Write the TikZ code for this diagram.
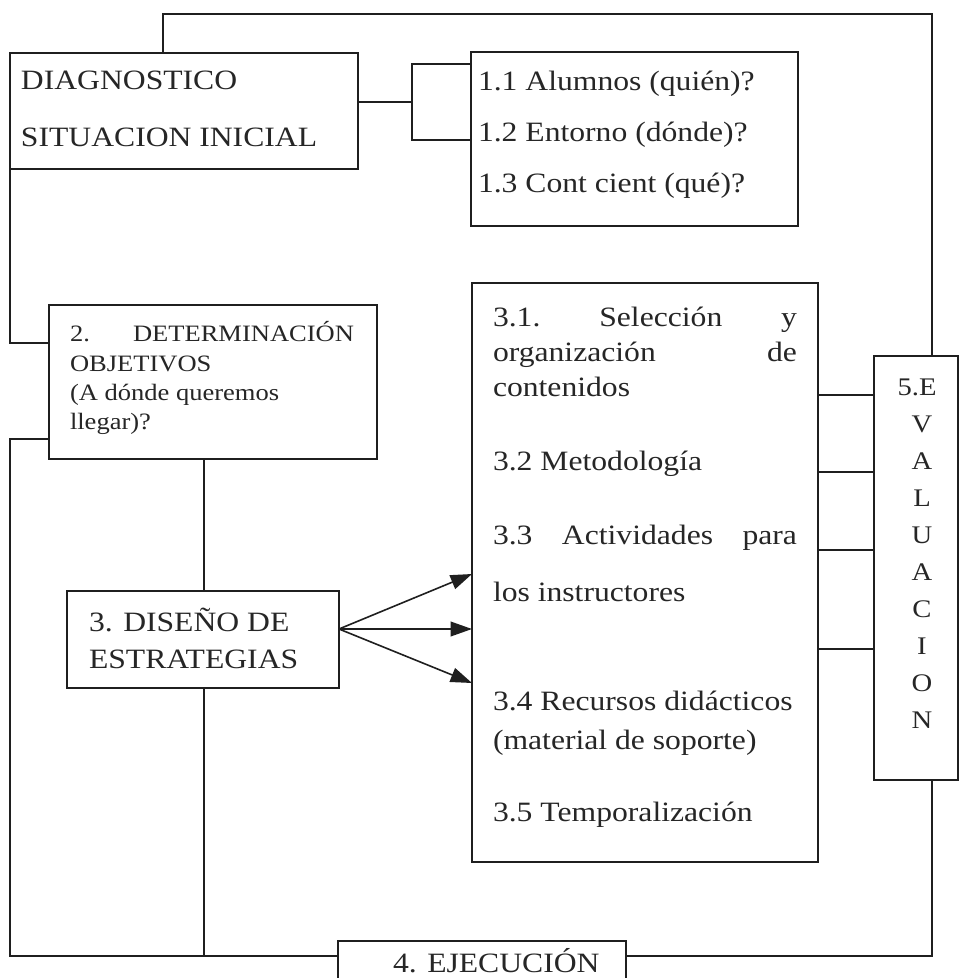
\documentclass[tikz,border=0pt]{standalone}
\usepackage{fontspec}
\setmainfont{Liberation Serif}[FakeStretch=1.13]
\usetikzlibrary{arrows.meta}
\newcommand\mainsz{\fontsize{21pt}{25pt}\selectfont}
\newcommand\smallsz{\fontsize{17.6pt}{21pt}\selectfont}
\newcommand\evsz{\fontsize{19pt}{22pt}\selectfont}
\begin{document}
\begin{tikzpicture}[x=0.75pt,y=-0.75pt,
  ln/.style={line width=1.2pt, draw=black!88},
  boxn/.style={draw=black!88, line width=1.2pt, rectangle, inner sep=0pt, outer sep=0pt, anchor=north west},
  txt/.style={anchor=base west, inner sep=0pt, outer sep=0pt, font=\mainsz, text=black!85},
  stxt/.style={txt, font=\smallsz},
  etxt/.style={anchor=base, inner sep=0pt, outer sep=0pt, font=\evsz, text=black!85},
  arr/.style={ln, -{Triangle[length=16pt,width=11pt]}}]

\fill[white] (0,0) rectangle (960,978);
\useasboundingbox (0,0) rectangle (960,978);

% boxes
\node[boxn, minimum width=348*0.75pt, minimum height=116*0.75pt] (diag) at (10,53) {};
\node[boxn, minimum width=327*0.75pt, minimum height=174*0.75pt] (q1) at (471,52) {};
\node[boxn, minimum width=328*0.75pt, minimum height=154*0.75pt] (obj) at (49,305) {};
\node[boxn, minimum width=272*0.75pt, minimum height=97*0.75pt] (dis) at (67,591) {};
\node[boxn, minimum width=346*0.75pt, minimum height=579*0.75pt] (b3) at (472,283) {};
\node[boxn, minimum width=84*0.75pt, minimum height=424*0.75pt] (ev) at (874,356) {};
\node[boxn, minimum width=288*0.75pt, minimum height=70*0.75pt] (ej) at (338,941) {};

% texts
\node[txt] (d1) at (21,89) {DIAGNOSTICO};
\node[txt] (d2) at (21,146) {SITUACION INICIAL};
\node[txt] (q11) at (478,90) {1.1 Alumnos (quién)?};
\node[txt] (q12) at (478,141) {1.2 Entorno (dónde)?};
\node[txt] (q13) at (478,192) {1.3 Cont cient (qué)?};
\node[stxt] (o1) at (70,341) {\makebox[213pt][s]{2.\hfill DETERMINACIÓN}};
\node[stxt] (o2) at (70,371) {OBJETIVOS};
\node[stxt] (o3) at (70,400) {(A dónde queremos};
\node[stxt] (o4) at (70,429) {llegar)?};
\node[txt] (s1) at (89,631) {3. DISEÑO DE};
\node[txt] (s2) at (89,668) {ESTRATEGIAS};
\node[txt] (c1) at (493,326) {\makebox[228pt][s]{3.1.\hfill Selección\hfill y}};
\node[txt] (c2) at (493,361) {\makebox[228pt][s]{organización\hfill de}};
\node[txt] (c3) at (493,396) {contenidos};
\node[txt] (c4) at (493,470) {3.2 Metodología};
\node[txt] (c5) at (493,544) {\makebox[228pt][s]{3.3\hfill Actividades\hfill para}};
\node[txt] (c6) at (493,601) {los instructores};
\node[txt] (c7) at (493,710) {3.4 Recursos didácticos};
\node[txt] (c8) at (493,749) {(material de soporte)};
\node[txt] (c9) at (493,821) {3.5 Temporalización};
\node[etxt] (e0) at (917,395) {5.E};
\node[etxt] (e1) at (922,432) {V};
\node[etxt] (e2) at (922,469) {A};
\node[etxt] (e3) at (922,506) {L};
\node[etxt] (e4) at (922,543) {U};
\node[etxt] (e5) at (922,580) {A};
\node[etxt] (e6) at (922,617) {C};
\node[etxt] (e7) at (922,654) {I};
\node[etxt] (e8) at (922,691) {O};
\node[etxt] (e9) at (922,728) {N};
\node[txt] (ejt) at (393,972) {4. EJECUCIÓN};

% connectors
\coordinate (tl) at (163,14);
\coordinate (tr) at (932,14);
\draw[ln] (diag.north -| tl) -- (tl) -- (tr) -- (ev.north -| tr);

\coordinate (bj) at (412,102);
\coordinate (bt) at (412,64);
\coordinate (bb) at (412,140);
\draw[ln] (diag.east |- bj) -- (bj);
\draw[ln] (q1.west |- bt) -- (bt) -- (bb) -- (q1.west |- bb);

\coordinate (l1) at (10,343);
\draw[ln] (diag.south west) -- (l1) -- (obj.west |- l1);
\coordinate (l2) at (10,439);
\coordinate (l3) at (10,956);
\draw[ln] (obj.west |- l2) -- (l2) -- (l3) -- (ej.west |- l3);
\coordinate (m) at (204,0);
\draw[ln] (obj.south -| m) -- (dis.north -| m);
\draw[ln] (dis.south -| m) -- (l3 -| m);

\coordinate (ao) at (339,629);
\coordinate (a1) at (0,574);
\coordinate (a2) at (0,629);
\coordinate (a3) at (0,683);
\draw[arr] (dis.east |- ao) -- (b3.west |- a1);
\draw[arr] (dis.east |- ao) -- (b3.west |- a2);
\draw[arr] (dis.east |- ao) -- (b3.west |- a3);

\coordinate (k1) at (0,395);
\coordinate (k2) at (0,472);
\coordinate (k3) at (0,550);
\coordinate (k4) at (0,649);
\draw[ln] (b3.east |- k1) -- (ev.west |- k1);
\draw[ln] (b3.east |- k2) -- (ev.west |- k2);
\draw[ln] (b3.east |- k3) -- (ev.west |- k3);
\draw[ln] (b3.east |- k4) -- (ev.west |- k4);

\coordinate (rb) at (932,956);
\draw[ln] (ev.south -| rb) -- (rb) -- (ej.east |- rb);
\end{tikzpicture}
\end{document}
